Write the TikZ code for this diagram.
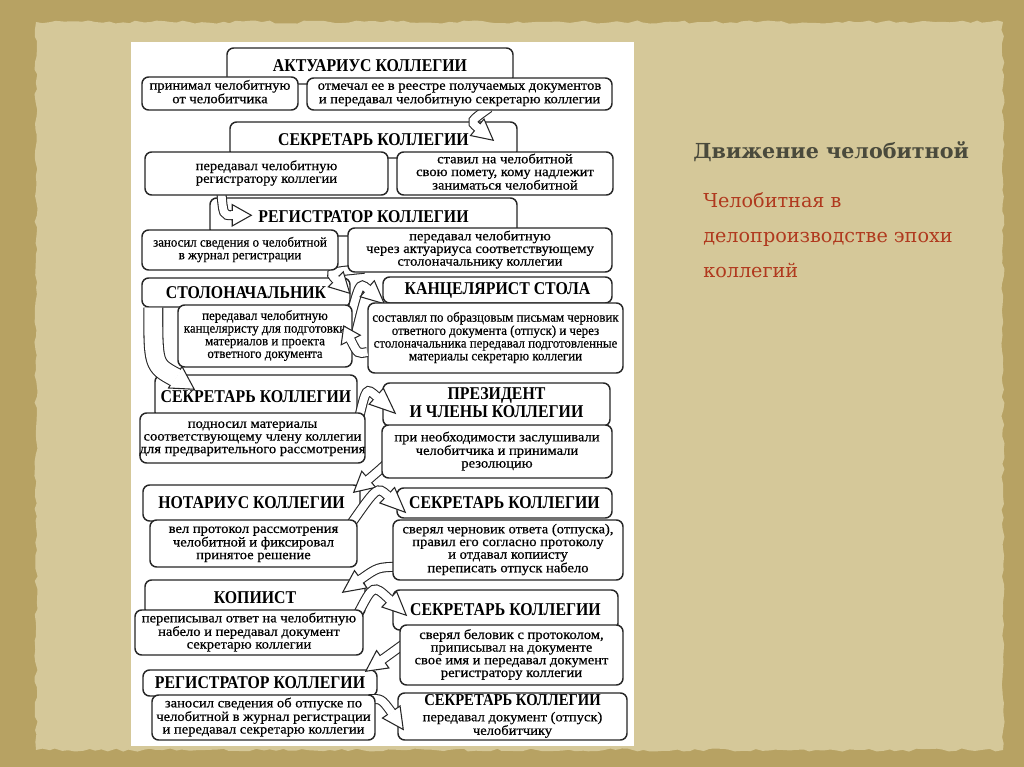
\documentclass[tikz,border=0pt]{standalone}
\usepackage{fontspec}
\setmainfont{Liberation Serif}
\newfontfamily\hdrf{Liberation Serif}[FakeStretch=0.88]
\newfontfamily\subf{Liberation Serif}[FakeStretch=1.07,FakeBold=0.5]
\newfontfamily\subc{Liberation Serif}[FakeStretch=0.95,FakeBold=0.4]
\newfontfamily\ttlf{DejaVu Serif}
\usetikzlibrary{calc,fit,decorations.pathmorphing}
\pgfdeclarelayer{arrows}\pgfdeclarelayer{top}\pgfdeclarelayer{tip}
\pgfsetlayers{main,arrows,top,tip}
\definecolor{paperout}{HTML}{B7A263}
\definecolor{paperin}{HTML}{D5C899}
\definecolor{ink}{HTML}{262626}
\definecolor{ttl}{HTML}{4A4A3C}
\definecolor{redtxt}{HTML}{B0391E}
\def\aow{7.5pt}\def\aiw{5.9pt}\def\ahw{8pt}
\newcommand\ml[1]{{\def\arraystretch{1}\begin{tabular}{@{}c@{}}#1\end{tabular}}}
% box with its text: style prefix, name, corner, corner, text
\newcommand\bx[5]{%
 \node[box, fit={(#3)(#4)}] (#2) {};
 \node[#1txt] (#2-t) at (#2.center) {#5};}
\newcommand\blk[1]{%
 \draw[line width=\aow, draw=ink] (#1s) .. controls (#1c) .. (#1q);
 \draw[line width=\aiw, white] (#1s) .. controls (#1c) .. (#1q);
 \draw[arr, fill=white, line join=miter] ($(#1q)!\ahw!90:(#1t)$) -- (#1t) -- ($(#1q)!\ahw!-90:(#1t)$) -- cycle;
 \draw[white, line width=\aiw] ($(#1q)!-1pt!(#1t)$) -- ($(#1q)!0.8pt!(#1t)$);
}
\begin{document}
\begin{tikzpicture}[x=0.75pt,y=-0.75pt,
  box/.style={draw=ink, line width=1.1pt, rounded corners=5pt, fill=white, inner sep=0pt},
  hdrtxt/.style={inner sep=0pt, font=\hdrf\bfseries\fontsize{13.5pt}{13.5pt}\selectfont},
  subtxt/.style={inner sep=0pt, font=\subf\fontsize{10.2pt}{9.5pt}\selectfont},
  subntxt/.style={inner sep=0pt, font=\subc\fontsize{10.2pt}{9.5pt}\selectfont},
  arr/.style={draw=ink, line width=0.8pt}]
\useasboundingbox (0,0) rectangle (1024,767);
% paper
\fill[paperout] (0,0) rectangle (1024,767);
\fill[paperin, decorate, decoration={random steps, segment length=5pt, amplitude=1.2pt}] (36,22) rectangle (1003,750);
\fill[white] (131,42) rectangle (634,746);
% right side text
\node[font=\ttlf\bfseries\fontsize{15.5pt}{15.5pt}\selectfont, text=ttl, anchor=west, inner sep=0pt] (title) at (693,152) {Движение челобитной};
\node[anchor=north west, align=left, font=\ttlf\fontsize{14.4pt}{26.25pt}\selectfont, text=redtxt, inner sep=0pt] (subtitle) at (703,192) {Челобитная в\\делопроизводстве эпохи\\коллегий};
% headers
\bx{hdr}{h1}{227,48}{513,84}{АКТУАРИУС КОЛЛЕГИИ}
\bx{hdr}{h2}{230,122}{517,158}{СЕКРЕТАРЬ КОЛЛЕГИИ}
\bx{hdr}{h3}{210,198}{517,236}{РЕГИСТРАТОР КОЛЛЕГИИ}
\bx{hdr}{h4l}{142,278}{350,307}{СТОЛОНАЧАЛЬНИК}
\bx{hdr}{h4r}{383,277}{612,303}{КАНЦЕЛЯРИСТ СТОЛА}
\bx{hdr}{h5l}{155,375}{357,419}{СЕКРЕТАРЬ КОЛЛЕГИИ}
\bx{hdr}{h5r}{383,383}{610,426}{\ml{ПРЕЗИДЕНТ\\И ЧЛЕНЫ КОЛЛЕГИИ}}
\bx{hdr}{h6l}{143,485}{360,521}{НОТАРИУС КОЛЛЕГИИ}
\bx{hdr}{h6r}{397,488}{612,518}{СЕКРЕТАРЬ КОЛЛЕГИИ}
\bx{hdr}{h7l}{145,580}{365,616}{КОПИИСТ}
\bx{hdr}{h7r}{393,590}{618,630}{СЕКРЕТАРЬ КОЛЛЕГИИ}
\bx{hdr}{h8l}{143,670}{377,696}{РЕГИСТРАТОР КОЛЛЕГИИ}
\bx{sub}{b8r}{398,693}{627,740}{\ml{{\hdrf\bfseries\fontsize{12.5pt}{12pt}\selectfont СЕКРЕТАРЬ КОЛЛЕГИИ}\\[2pt]передавал документ (отпуск)\\челобитчику}}
% sub boxes
\begin{pgfonlayer}{top}
\bx{sub}{s1l}{142,77}{298,110}{\ml{принимал челобитную\\от челобитчика}}
\bx{sub}{s1r}{307,78}{612,110}{\ml{отмечал ее в реестре получаемых документов\\и передавал челобитную секретарю коллегии}}
\bx{sub}{s2l}{145,152}{388,195}{\ml{передавал челобитную\\регистратору коллегии}}
\bx{sub}{s2r}{397,152}{613,195}{\ml{ставил на челобитной\\свою помету, кому надлежит\\заниматься челобитной}}
\bx{subn}{s3l}{142,230}{338,270}{\ml{заносил сведения о челобитной\\в журнал регистрации}}
\bx{sub}{s3r}{348,228}{612,272}{\ml{передавал челобитную\\через актуариуса соответствующему\\столоначальнику коллегии}}
\bx{subn}{s4l}{178,305}{352,367}{\ml{передавал челобитную\\канцеляристу для подготовки\\материалов и проекта\\ответного документа}}
\bx{subn}{s4r}{368,303}{623,373}{\ml{составлял по образцовым письмам черновик\\ответного документа (отпуск) и через\\столоначальника передавал подготовленные\\материалы секретарю коллегии}}
\bx{sub}{s5l}{140,413}{365,463}{\ml{подносил материалы\\соответствующему члену коллегии\\для предварительного рассмотрения}}
\bx{sub}{s5r}{382,425}{612,478}{\ml{при необходимости заслушивали\\челобитчика и принимали\\резолюцию}}
\bx{sub}{s6l}{150,520}{357,567}{\ml{вел протокол рассмотрения\\челобитной и фиксировал\\принятое решение}}
\bx{sub}{s6r}{393,520}{623,580}{\ml{сверял черновик ответа (отпуска),\\правил его согласно протоколу\\и отдавал копиисту\\переписать отпуск набело}}
\bx{sub}{s7l}{135,610}{363,655}{\ml{переписывал ответ на челобитную\\набело и передавал документ\\секретарю коллегии}}
\bx{sub}{s7r}{400,625}{623,685}{\ml{сверял беловик с протоколом,\\приписывал на документе\\свое имя и передавал документ\\регистратору коллегии}}
\bx{sub}{s8l}{152,695}{375,740}{\ml{заносил сведения об отпуске по\\челобитной в журнал регистрации\\и передавал секретарю коллегии}}
\end{pgfonlayer}
% arrow coordinates
\coordinate (a1s) at ($(s1r.south west)+(183,-3)$);
\coordinate (a1c) at ($(h2.north west)+(241,0)$);
\coordinate (a1q) at ($(h2.north west)+(248,6)$);
\coordinate (a1t) at ($(h2.north west)+(264,19)$);
\coordinate (a2s) at ($(s2l.south west)+(77,-5)$);
\coordinate (a2c) at ($(h3.north west)+(14,18)$);
\coordinate (a2q) at ($(h3.north west)+(23,18)$);
\coordinate (a2t) at ($(h3.north west)+(42,18)$);
\coordinate (a3s) at ($(s3r.south west)+(17,-4)$);
\coordinate (a3c) at ($(h4l.north east)+(-22,-5)$);
\coordinate (a3q) at ($(h4l.north east)+(-15,2)$);
\coordinate (a3t) at ($(h4l.north east)+(-1,16)$);
\coordinate (a4s) at ($(s4l.east)+(-8,5)$);
\coordinate (a4c) at ($(h4r.south west)+(-23,-22)$);
\coordinate (a4q) at ($(h4r.south west)+(-15,-15)$);
\coordinate (a4t) at ($(h4r.south west)+(2,0)$);
\coordinate (a5s) at ($(s4r.west)+(0,14)$);
\coordinate (a5c) at ($(s4l.east)+(5,18)$);
\coordinate (a5q) at ($(s4l.east)+(-2,4)$);
\coordinate (a5t) at ($(s4l.east)+(-9,-10)$);
\coordinate (a6s) at ($(h4l.south west)+(12,0)$);
\coordinate (a6c) at ($(h5l.north west)+(-1,-9)$);
\coordinate (a6q) at ($(h5l.north west)+(21,3)$);
\coordinate (a6t) at ($(h5l.north west)+(40,15)$);
\coordinate (a7s) at ($(s5l.north east)+(-7,7)$);
\coordinate (a7c) at ($(h5r.north west)+(-16,5)$);
\coordinate (a7q) at ($(h5r.north west)+(-6,14)$);
\coordinate (a7t) at ($(h5r.north west)+(13,31)$);
\coordinate (a8s) at ($(s5r.south west)+(6,-16)$);
\coordinate (a8c) at ($(h6l.north east)+(22,-17)$);
\coordinate (a8q) at ($(h6l.north east)+(8,-5)$);
\coordinate (a8t) at ($(h6l.north east)+(-7,8)$);
\coordinate (a9s) at ($(s6l.north east)+(-7,5)$);
\coordinate (a9c) at ($(h6r.north west)+(-19,-1)$);
\coordinate (a9q) at ($(h6r.north west)+(-9,8)$);
\coordinate (a9t) at ($(h6r.north west)+(9,25)$);
\coordinate (a10s) at ($(s6r.south west)+(5,-14)$);
\coordinate (a10c) at ($(h7l.north east)+(12,-12)$);
\coordinate (a10q) at ($(h7l.north east)+(-5,0)$);
\coordinate (a10t) at ($(h7l.north east)+(-23,13)$);
\coordinate (a11s) at ($(s7l.north east)+(-6,5)$);
\coordinate (a11c) at ($(h7r.north west)+(-19,-5)$);
\coordinate (a11q) at ($(h7r.north west)+(-3,10)$);
\coordinate (a11t) at ($(h7r.north west)+(14,26)$);
\coordinate (a12s) at ($(s7r.west)+(10,-15)$);
\coordinate (a12c) at ($(h8l.north east)+(19,-20)$);
\coordinate (a12q) at ($(h8l.north east)+(5,-10)$);
\coordinate (a12t) at ($(h8l.north east)+(-12,2)$);
\coordinate (a13s) at ($(s8l.north east)+(-7,5)$);
\coordinate (a13c) at ($(b8r.west)+(-16,-18)$);
\coordinate (a13q) at ($(b8r.west)+(-6,-4.5)$);
\coordinate (a13t) at ($(b8r.west)+(6,13)$);
\begin{pgfonlayer}{arrows}
\blk{a1}\blk{a2}\blk{a3}\blk{a4}
\begingroup\def\aow{15pt}\def\aiw{13.4pt}\def\ahw{9.5pt}\blk{a6}\endgroup
\blk{a7}\blk{a8}\blk{a9}\blk{a10}\blk{a11}\blk{a12}\blk{a13}
\end{pgfonlayer}
\begin{pgfonlayer}{tip}
\blk{a5}
\end{pgfonlayer}
\end{tikzpicture}
\end{document}
